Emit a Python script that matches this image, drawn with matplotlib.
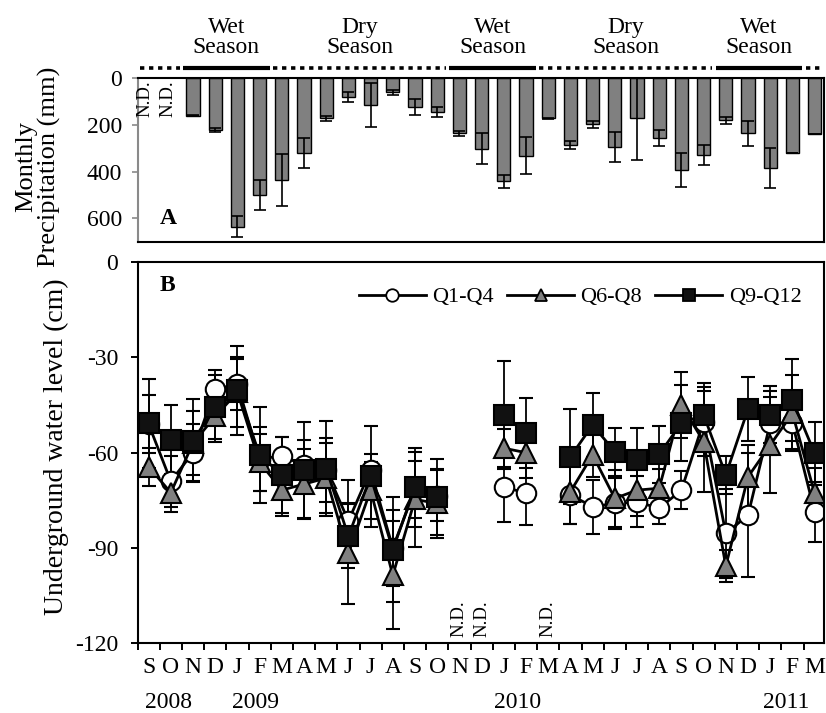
import numpy as np
import matplotlib
matplotlib.use("Agg")
import matplotlib.pyplot as plt
import matplotlib.transforms as mtransforms
from matplotlib.lines import Line2D

plt.rcParams['font.family'] = ['Liberation Serif', 'DejaVu Serif']
plt.rcParams['font.size'] = 17
plt.rcParams['axes.unicode_minus'] = False

nan = np.nan

months = ["S", "O", "N", "D", "J", "F", "M", "A", "M", "J", "J", "A",
          "S", "O", "N", "D", "J", "F", "M", "A", "M", "J", "J", "A",
          "S", "O", "N", "D", "J", "F", "M"]
years = ["2008", "2009", "2010", "2011"]
year_pos = [0.9, 4.8, 16.6, 28.7]

# monthly precipitation (mm), Sep 2008 - Mar 2011
rain = [nan, nan, 160, 222, 635, 500, 435, 320, 172, 80, 115, 60,
        124, 143, 236, 301, 442, 332, 172, 286, 196, 293, 168, 256,
        393, 328, 180, 236, 383, 320, 237]
rain_err = [nan, nan, 3, 8, 45, 63, 110, 63, 12, 21, 95, 10,
            34, 22, 10, 67, 28, 80, 3, 18, 15, 65, 183, 36,
            72, 42, 15, 52, 85, 0, 0]
rain_nd = [0, 1]

# season bands: boundaries and type
season_edges = [-0.5, 1.5, 5.5, 13.5, 17.5, 25.5, 29.5, 30.4]
season_kind = ["dry", "wet", "dry", "wet", "dry", "wet", "dry"]
season_names = {"wet": "Wet\nSeason", "dry": "Dry\nSeason"}

# underground water level (cm)
q1 = [-51, -69, -60, -40, -38.5, -62, -61, -64, -65.5, -81.5, -65.5, -90,
      -71.5, -73.5, nan, nan, -70.7, -72.8, nan, -73.3, -77, -76, -75.5, -77.5,
      -71.8, -50.2, -85.4, -79.7, -50.7, -50.7, -78.6]
q1_err = [9, 8, 9, 6, 8, 10, 6, 8, 10, 13, 5, 12,
          9, 8, nan, nan, 11, 10, nan, 9, 8.5, 8, 8, 5,
          6, 11, 14, 19.5, 10, 8, 9.4]
q6 = [-64.4, -72.6, -57, -48.6, -41, -63, -71.8, -69.9, -68, -91.7, -71.8, -98.6,
      -74.7, -76, nan, nan, -58.6, -60, nan, -72.3, -60.7, -74.4, -71.8, -71.2,
      -45, -56.5, -95.7, -67.6, -57.6, -47.6, -72.8]
q6_err = [6, 6, 10, 8, 11, 9, 8, 11, 11, 16, 9, 17,
          15, 11, nan, nan, 6, 8, nan, 10, 7, 9, 8, 6,
          10.5, 16, 5, 10, 15, 12, 8]
q9 = [-50.7, -56, -56.2, -45.7, -40.4, -60.7, -67, -65.5, -65, -86.3, -67.5, -90.5,
      -70.9, -73.9, nan, nan, -48.1, -53.9, nan, -61.3, -51.3, -59.7, -62.3, -60.5,
      -50.7, -48.1, -67, -46.3, -48.1, -43.4, -60.2]
q9_err = [14, 11, 13, 10, 14, 15, 12, 15, 15, 10, 16, 16.5,
          12.5, 12, nan, nan, 17, 11, nan, 15, 10, 7.5, 10, 9,
          12, 10, 6, 10, 9, 13, 10]
level_nd = [14, 15, 18]

series = [
    ("Q1-Q4", q1, q1_err, "o", "white"),
    ("Q6-Q8", q6, q6_err, "^", "#808080"),
    ("Q9-Q12", q9, q9_err, "s", "#111111"),
]

x = np.arange(len(months))

fig = plt.figure(figsize=(8.26, 7.13), dpi=100)
W, H = 826, 713
left, right = 137.5 / W, 823.5 / W
ax1 = fig.add_axes([left, 1 - 241.7 / H, right - left, (241.7 - 78.3) / H])
ax2 = fig.add_axes([left, 1 - 643.3 / H, right - left, (643.3 - 262) / H])

# ---- A: precipitation bars hanging from the top
ax1.bar(x, rain, width=0.6, color="#808080", edgecolor="black", linewidth=1, zorder=2)
ax1.errorbar(x, rain, yerr=rain_err, fmt="none", ecolor="black",
             elinewidth=1.2, capsize=4.5, capthick=1.2, zorder=3)
ax1.set_xlim(-0.5, 30.4)
ax1.set_ylim(700, 0)
ax1.set_xticks([])
ax1.set_yticks([0, 200, 400, 600])
ax1.tick_params(axis="y", direction="out", length=4, width=1.2, color="#8a8a8a", pad=7)
for s in ["top", "right", "bottom"]:
    ax1.spines[s].set_linewidth(1.5)
ax1.spines["left"].set_color("#8a8a8a")
ax1.spines["left"].set_linewidth(1.5)

for i in rain_nd:
    ax1.text(i - 0.15, 8, "N.D.", rotation=90, ha="center", va="top", fontsize=13.5)
ax1.text(0.5, 600, "A", fontweight="bold", ha="left", va="center", fontsize=17)

trans = mtransforms.blended_transform_factory(ax1.transData, ax1.transAxes)
for k, kind in enumerate(season_kind):
    x0, x1 = season_edges[k], season_edges[k + 1]
    if kind == "wet":
        ax1.plot([x0 + 0.05, x1 - 0.05], [1.066, 1.066], color="black", lw=3,
                 solid_capstyle="butt", transform=trans, clip_on=False)
    else:
        ax1.plot([x0 + 0.1, x1 - 0.1], [1.066, 1.066], color="black", lw=2.6,
                 linestyle=(0, (1.2, 1.3)), dash_capstyle="butt",
                 transform=trans, clip_on=False)
    if k not in (0, len(season_kind) - 1):
        ax1.text((x0 + x1) / 2, 1.25, season_names[kind], transform=trans,
                 ha="center", va="center", fontsize=17, linespacing=0.95)

fig.text(0.046, 1 - 167 / H, "Monthly\nPrecipitation (mm)", rotation=90,
         ha="center", va="center", fontsize=19, linespacing=1.05)

# ---- B: water level
for label, vals, errs, marker, face in series:
    ax2.errorbar(x, vals, yerr=errs, fmt="-" + marker, color="black",
                 mfc=face, mec="black", mew=1.5, ms=15 if marker == "^" else 14,
                 lw=2, elinewidth=1.3, capsize=5, capthick=1.3, label=label)

ax2.set_xlim(-0.5, 30.4)
ax2.set_ylim(-120, 0)
ax2.set_yticks([0, -30, -60, -90, -120])
ax2.set_xticks(x)
ax2.set_xticklabels(months)
ax2.set_xticks(np.arange(-0.5, 30.4, 1), minor=True)
ax2.tick_params(axis="x", which="major", length=0, pad=10)
ax2.tick_params(axis="x", which="minor", direction="out", length=5, width=1.4)
ax2.tick_params(axis="y", direction="out", length=5, width=1.4, pad=9)
for s in ax2.spines.values():
    s.set_linewidth(1.5)

trans2 = mtransforms.blended_transform_factory(ax2.transData, ax2.transAxes)
for pos, yr in zip(year_pos, years):
    ax2.text(pos, -0.154, yr, transform=trans2, ha="center", va="center", fontsize=17)

for i in level_nd:
    ax2.text(i, -118, "N.D.", rotation=90, ha="center", va="bottom", fontsize=13.5)
ax2.text(0.5, -7.5, "B", fontweight="bold", ha="left", va="center", fontsize=17)

handles = [Line2D([], [], color="black", lw=2, marker=m, mfc=f, mec="black",
                  mew=1.3, ms=9) for _, _, _, m, f in series]
ax2.legend(handles, [s[0] for s in series], ncol=3, frameon=False,
           loc="center right", bbox_to_anchor=(0.968, 0.908), borderpad=0,
           borderaxespad=0, handlelength=3.0, handletextpad=0.3,
           columnspacing=0.6, fontsize=16)

fig.text(0.068, 1 - 447 / H, "Underground water level (cm)", rotation=90,
         ha="center", va="center", fontsize=20)

fig.savefig("out.png", dpi=100)
